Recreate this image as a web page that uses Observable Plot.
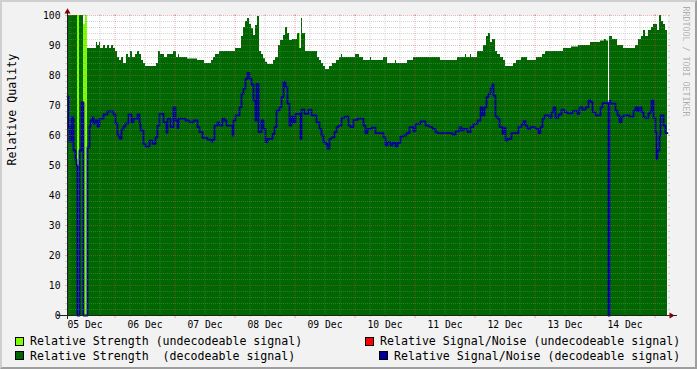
<!DOCTYPE html>
<html><head><meta charset="utf-8">
<script src="https://cdn.jsdelivr.net/npm/d3@7"></script>
<script src="https://cdn.jsdelivr.net/npm/@observablehq/plot@0.6"></script>
<style>
html,body{margin:0;padding:0;background:#f2f2f2;}
#wrap{position:relative;width:697px;height:369px;background:#f2f2f2;overflow:hidden;font-family:"DejaVu Sans Mono",monospace;}
#chart{position:absolute;left:0;top:0;}
#bevel{position:absolute;left:0;top:0;width:697px;height:369px;box-sizing:border-box;border:2px solid;border-color:#cfcfcf #9e9e9e #9e9e9e #cfcfcf;pointer-events:none;}
.lg{position:absolute;font-size:11.6px;line-height:14px;white-space:pre;color:#000;}
.sw{position:absolute;width:7px;height:7px;border:1px solid #000;}
</style></head><body>
<div id="wrap"><div id="chart"></div><div id="legend"></div><div id="bevel"></div></div>
<script>
// ---- data (time = consolidated RRD row index, 24 minutes per row) ----
const startTime = Date.UTC(2021, 11, 5, 5, 0);
const rowMinutes = 24;
const lastRow = 600;

// Relative Strength (decodeable signal): [row, value] steps
const strengthDecodeable = [[0,100],[10,0],[12,100],[16,0],[20,89],[29,91],[30,90],[32,91],[33,89],[36,90],[38,89],[40,90],[42,89],[44,90],[46,89],[48,88],[50,86],[52,85],[54,86],[56,84],[59,87],[61,86],[63,88],[65,86],[68,87],[70,88],[72,87],[74,85],[76,84],[78,83],[89,84],[91,88],[93,87],[97,86],[100,87],[106,88],[109,86],[111,87],[112,86],[120,85.5],[130,85],[137,84],[144,85],[146,86],[148,87],[152,88],[168,89],[174,93],[176,96],[178,98],[180,99],[182,97],[184,95.6],[186,93.3],[188,96.7],[190,99.7],[192,88],[194,87],[196,85.6],[198,84.4],[200,83.7],[206,85],[208,86],[211,90],[213,91.7],[216,93.3],[218,96],[220,94],[222,91.7],[225,92],[230,94],[232,89],[234,99],[235,94],[238,88],[250,86],[252,85],[254,84],[256,83],[258,82],[262,83],[265,84],[269,85],[272,86],[274,87],[275,86],[283,86],[288,87],[292,86],[296,85],[303,86],[304,85],[316,86],[320,84],[328,85],[329,84],[340,85],[346,86],[373,85],[390,86],[398,87],[399,86],[403,87],[404,86],[410,88],[416,90],[419,93],[421,94],[423,91],[425,92],[428,88],[430,87],[433,86],[436,85],[438,83],[446,84],[449,85],[454,86],[460,85],[469,86],[475,87],[478,88],[496,89],[504,89.5],[511,90],[523,91],[533,91.5],[537,92],[539,91.5],[541,0],[542,93],[545,92],[550,90],[556,89],[568,90],[571,92],[574,93],[576,95],[578,93],[581,95],[584,96],[586,97],[590,95],[592,100],[594,98],[596,97],[598,95],[600,95]];

// Relative Strength (undecodeable signal)
const strengthUndecodeable = [[0,0],[10,100],[12,0],[16,97],[18,100],[20,0],[232,94],[233,0],[600,0]];

// Relative Signal/Noise (decodeable signal)
const snrDecodeable = [[0,73],[1,63],[2,58],[4,66],[6,55],[8,52],[9,50],[10,0],[12,55],[14,71],[16,0],[20,56],[22,63],[23,65],[25,66],[26,64],[28,65],[30,63],[32,65.6],[36,67],[40,68],[46,67],[48,64],[50,60],[52,59],[54,62],[56,63],[58,64],[61,67],[64,64.4],[66,65.6],[70,67],[72,64],[73,61.7],[76,57.2],[78,56.3],[82,58.3],[85,57.2],[88,59.4],[90,63.3],[92,67.2],[96,64.4],[99,61],[100,65.6],[103,62.8],[106,69.4],[108,65],[110,62.5],[111,65.6],[118,65],[122,64.4],[126,65],[130,62.8],[132,61.1],[135,59.2],[140,58.6],[144,58],[145,58.6],[147,63.3],[150,64.4],[152,63.3],[155,65.6],[157,65],[159,63.3],[165,60],[166,65],[168,66.7],[172,69.4],[174,73.9],[176,75.6],[178,78.9],[180,80.9],[182,78.9],[184,77],[186,71.7],[188,65],[189,77.2],[191,61.1],[194,65],[196,62.2],[198,57.8],[200,58.9],[205,60.5],[207,62.8],[209,68.3],[212,69.4],[214,72.8],[216,77.8],[218,76.1],[220,70.6],[222,63.3],[224,66.3],[226,64.4],[228,67.2],[233,58.9],[234,68.6],[237,67.2],[241,68.6],[244,66.7],[249,64.4],[252,62.2],[254,60],[256,57.8],[258,57.2],[260,55.6],[262,58.9],[264,59.4],[267,61.1],[269,62.8],[271,63.3],[274,65.9],[277,66.3],[281,63.3],[283,62.8],[286,65.2],[290,65.6],[296,63.3],[298,60.8],[300,62.2],[304,62.6],[308,60.8],[316,59.4],[318,56.7],[320,57.8],[323,56.7],[325,57.5],[328,56.3],[330,57.5],[333,59.7],[336,60],[339,60.8],[342,62.8],[346,61.4],[348,63.9],[353,64.7],[358,63.3],[362,62.8],[365,62.2],[368,61.1],[370,60.8],[385,60.3],[388,61.4],[392,62.8],[394,61.7],[396,62.2],[400,61.1],[403,62.8],[406,63.9],[410,65],[413,69.4],[415,66.7],[417,69.4],[419,72.8],[421,73.9],[423,75.9],[425,77],[426,73.3],[428,66.3],[430,65.6],[432,62.8],[435,60.6],[437,62.6],[438,58.3],[440,58.9],[444,60.8],[451,62.8],[454,63.7],[456,64.8],[458,63.3],[460,62.2],[463,62.8],[468,62.2],[471,60.8],[473,62.8],[475,65.6],[477,66.7],[482,65.9],[484,67.8],[486,69.4],[488,65.9],[491,67],[494,68.6],[497,67.8],[500,67.4],[505,68.1],[510,67.2],[512,69.4],[515,68.6],[518,69.4],[521,71.7],[523,71.1],[525,67.8],[528,66.7],[533,69.4],[535,70.8],[541,0],[542,71.7],[543,70.6],[548,68.3],[550,66.7],[552,64.4],[554,66.1],[556,66.7],[562,66.3],[566,68.3],[568,69.4],[570,68.1],[572,69.4],[574,67.8],[576,66.1],[578,65.9],[581,67.4],[583,68.1],[584,71.7],[586,65.9],[588,61.1],[589,52.2],[590,55],[592,60],[593,66.7],[596,63.3],[598,60.8],[600,60.8]];

// Relative Signal/Noise (undecodeable signal): not visible in this period
const snrUndecodeable = [];

const yTicks = [0,10,20,30,40,50,60,70,80,90,100];
const dayLabels = ["05 Dec","06 Dec","07 Dec","08 Dec","09 Dec","10 Dec","11 Dec","12 Dec","13 Dec","14 Dec"];
const legendItems = [
  {label: "Relative Strength (undecodeable signal)", color: "#80ff00"},
  {label: "Relative Strength  (decodeable signal)", color: "#006600"},
  {label: "Relative Signal/Noise (undecodeable signal)", color: "#ff0000"},
  {label: "Relative Signal/Noise (decodeable signal)", color: "#000099"}
];
const yTitle = "Relative Quality";
const watermark = "RRDTOOL / TOBI OETIKER";

// ---- build ----
const toDate = r => new Date(startTime + r * rowMinutes * 60000);
const rows = arr => arr.map(([r, v]) => ({t: toDate(r), v}));
const x0 = toDate(0), x1 = toDate(lastRow);
const parseDay = d3.utcParse("%d %b %Y");
const noonTicks = dayLabels.map(s => new Date(+parseDay(s + " 2021") + 12 * 3600000));
const labelOf = new Map(noonTicks.map((d, i) => [+d, dayLabels[i]]));
const majorX = d3.utcDay.range(x0, x1);
const minorX = d3.utcHour.every(6).range(x0, x1).filter(d => d.getUTCHours() !== 0);
const majorY = yTicks;
const minorY = d3.range(0, 101, 2).filter(v => v % 10 !== 0);

const gridC = "#8f8f8f", mgridC = "#de4f4f";
const minorStyle = {stroke: gridC, strokeOpacity: 0.75, strokeWidth: 0.5, strokeDasharray: "1,1"};
const majorStyle = {stroke: mgridC, strokeOpacity: 0.6, strokeWidth: 0.7, strokeDasharray: "1,1"};
const tk = (o) => ({text: null, label: null, ...o});

const chart = Plot.plot({
  width: 697, height: 333,
  marginLeft: 67, marginRight: 30, marginTop: 15, marginBottom: 18,
  style: {background: "transparent", fontFamily: "DejaVu Sans Mono", fontSize: "9.7px", color: "#000", overflow: "visible"},
  x: {type: "utc", domain: [x0, x1], axis: null, label: null},
  y: {domain: [0, 100], axis: null, label: null},
  marks: [
    Plot.frame({fill: "white", stroke: null}),
    Plot.areaY(rows(strengthUndecodeable), {x: "t", y: "v", curve: "step-after", fill: legendItems[0].color}),
    Plot.areaY(rows(strengthDecodeable), {x: "t", y: "v", curve: "step-after", fill: legendItems[1].color}),
    Plot.line(rows(snrUndecodeable), {x: "t", y: "v", curve: "step-after", stroke: legendItems[2].color, strokeWidth: 1.8}),
    Plot.line(rows(snrDecodeable), {x: "t", y: "v", curve: "step-after", stroke: legendItems[3].color, strokeWidth: 1.8}),
    // grid on top of the data
    Plot.gridY(minorY, minorStyle),
    Plot.gridX(minorX, minorStyle),
    Plot.gridY(majorY, majorStyle),
    Plot.gridX(majorX, majorStyle),
    // small ticks outside the canvas
    Plot.axisY(minorY, tk({anchor: "left", tickSize: 2, stroke: gridC, strokeOpacity: 0.75, strokeWidth: 0.5})),
    Plot.axisY(minorY, tk({anchor: "right", tickSize: 2, stroke: gridC, strokeOpacity: 0.75, strokeWidth: 0.5})),
    Plot.axisY(majorY, tk({anchor: "left", tickSize: 2, stroke: mgridC, strokeOpacity: 0.6, strokeWidth: 0.7})),
    Plot.axisY(majorY, tk({anchor: "right", tickSize: 2, stroke: mgridC, strokeOpacity: 0.6, strokeWidth: 0.7})),
    Plot.axisX(minorX, tk({anchor: "bottom", tickSize: 2, stroke: gridC, strokeOpacity: 0.75, strokeWidth: 0.5})),
    Plot.axisX(minorX, tk({anchor: "top", tickSize: 2, stroke: gridC, strokeOpacity: 0.75, strokeWidth: 0.5})),
    Plot.axisX(majorX, tk({anchor: "bottom", tickSize: 3, stroke: mgridC, strokeOpacity: 0.6, strokeWidth: 0.7})),
    Plot.axisX(majorX, tk({anchor: "top", tickSize: 2, stroke: mgridC, strokeOpacity: 0.6, strokeWidth: 0.7})),
    // tick labels
    Plot.axisY(yTicks, {anchor: "left", label: null, tickSize: 0, tickPadding: 7, fill: "#000"}),
    Plot.axisX(noonTicks, {anchor: "bottom", label: null, tickSize: 0, tickPadding: 6, fill: "#000", tickFormat: d => labelOf.get(+d)}),
    // axis lines
    Plot.ruleY([0], {x1: toDate(-10), x2: toDate(lastRow + 10), stroke: "#212121", strokeWidth: 1}),
    Plot.ruleX([x0], {y1: -4/3, y2: 100 + 4/3, stroke: "#212121", strokeWidth: 1}),
    // arrows
    Plot.dot([x0], {x: d => d, y: 101.24, symbol: "triangle", r: 2.23, fill: "#800000", stroke: null}),
    Plot.dot([x1], {x: () => toDate(lastRow + 3.73), y: 0, symbol: "triangle", r: 2.23, rotate: 90, fill: "#800000", stroke: null}),
    // titles
    Plot.text([yTitle], {text: d => d, frameAnchor: "left", rotate: -90, dx: -55, fontSize: 11.6, fill: "#000"}),
    Plot.text([watermark], {text: d => d, frameAnchor: "top-right", rotate: 90, dx: 21, dy: -9, textAnchor: "start", fontSize: 8.3, fill: "#000", fillOpacity: 0.3})
  ]
});
document.getElementById("chart").appendChild(chart);

// legend below the plot
const lg = document.getElementById("legend");
const pos = [
  {sx: 15, tx: 30, top: 334.3},
  {sx: 15, tx: 30, top: 348.5},
  {sx: 365, tx: 380, top: 334.3},
  {sx: 379, tx: 394, top: 348.5}
];
legendItems.forEach((it, i) => {
  const p = pos[i];
  const sw = document.createElement("div");
  sw.className = "sw";
  sw.style.left = p.sx + "px"; sw.style.top = (p.top + 2.5) + "px"; sw.style.background = it.color;
  const tx = document.createElement("div");
  tx.className = "lg";
  tx.style.left = p.tx + "px"; tx.style.top = p.top + "px";
  tx.textContent = it.label;
  lg.appendChild(sw); lg.appendChild(tx);
});
</script>
</body></html>
